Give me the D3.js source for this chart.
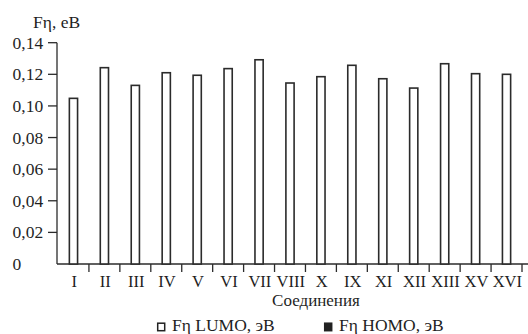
<!DOCTYPE html>
<html>
<head>
<meta charset="utf-8">
<script src="https://cdn.jsdelivr.net/npm/d3@7"></script>
<style>
  html, body { margin: 0; padding: 0; background: #fff; }
  svg text { font-family: "Liberation Serif", "Times New Roman", serif; fill: #1f1f1f; }
</style>
</head>
<body>
<svg id="chart" width="528" height="334"></svg>
<script>
// compounds along the x axis (XIV is missing in the source)
var compounds = ['I','II','III','IV','V','VI','VII','VIII','X','IX','XI','XII','XIII','XV','XVI'];
// Fη LUMO, eV
var lumo = [0.1048, 0.1242, 0.1130, 0.1210, 0.1194, 0.1236, 0.1292, 0.1145, 0.1185, 0.1257, 0.1172, 0.1113, 0.1267, 0.1204, 0.1200];
var yTicks = [0, 0.02, 0.04, 0.06, 0.08, 0.10, 0.12, 0.14];
var legendItems = [{name: 'Fη LUMO, эВ', fill: '#fff'}, {name: 'Fη HOMO, эВ', fill: '#222'}];

var svg = d3.select('#chart');
var ink = '#2b2b2b';
var fs = 17.5;

var x = d3.scaleBand().domain(compounds).range([58, 522]).padding(0);
var y = d3.scaleLinear().domain([0, 0.14]).range([264, 42.7]);

function fmt(d) { return d === 0 ? '0' : d.toFixed(2).replace('.', ','); }

// y axis
svg.append('line')
  .attr('x1', 57).attr('x2', 57)
  .attr('y1', y(0.14)).attr('y2', y(0))
  .style('stroke', ink).style('stroke-width', 1.3);

var yt = svg.append('g').selectAll('g').data(yTicks).enter().append('g')
  .attr('transform', function(d) { return 'translate(0,' + y(d) + ')'; });
yt.filter(function(d) { return d > 0; }).append('line')
  .attr('x1', 48).attr('x2', 57)
  .style('stroke', ink).style('stroke-width', 1.3);
yt.append('text')
  .attr('x', 12.5).attr('y', 6)
  .style('font-size', fs + 'px')
  .text(fmt);

// x axis
svg.append('line')
  .attr('x1', 57).attr('x2', 528)
  .attr('y1', y(0)).attr('y2', y(0))
  .style('stroke', ink).style('stroke-width', 1.3);

svg.append('g').selectAll('line').data(compounds).enter().append('line')
  .attr('x1', function(d) { return x(d) + x.step(); })
  .attr('x2', function(d) { return x(d) + x.step(); })
  .attr('y1', y(0)).attr('y2', y(0) + 8)
  .style('stroke', ink).style('stroke-width', 1.3);

svg.append('g').selectAll('text').data(compounds).enter().append('text')
  .attr('x', function(d) { return x(d) + x.bandwidth() / 2 + 0.8; })
  .attr('y', 286.5)
  .attr('text-anchor', 'middle')
  .style('font-size', '16.5px')
  .text(function(d) { return d; });

// bars
var bw = x.bandwidth() * 0.265;
svg.append('g').selectAll('rect').data(lumo).enter().append('rect')
  .attr('x', function(d, i) { return x(compounds[i]) + x.bandwidth() / 2 - bw / 2; })
  .attr('y', function(d) { return y(d); })
  .attr('width', bw)
  .attr('height', function(d) { return y(0) - y(d); })
  .style('fill', '#fff')
  .style('stroke', ink).style('stroke-width', 1.6);

// titles
svg.append('text')
  .attr('x', 33).attr('y', 27.5)
  .style('font-size', fs + 'px')
  .text('Fη, eB');

svg.append('text')
  .attr('x', 316).attr('y', 306)
  .attr('text-anchor', 'middle')
  .style('font-size', '17px')
  .text('Соединения');

// legend
var lg = svg.append('g').selectAll('g').data(legendItems).enter().append('g')
  .attr('transform', function(d, i) { return 'translate(' + (157 + i * 167) + ',0)'; });
lg.append('rect')
  .attr('x', 0.7).attr('y', 323.2).attr('width', 7).attr('height', 7.5)
  .style('fill', function(d) { return d.fill; })
  .style('stroke', '#222').style('stroke-width', 1.5);
lg.append('text')
  .attr('x', 15).attr('y', 331)
  .style('font-size', fs + 'px')
  .text(function(d) { return d.name; });
</script>
</body>
</html>
